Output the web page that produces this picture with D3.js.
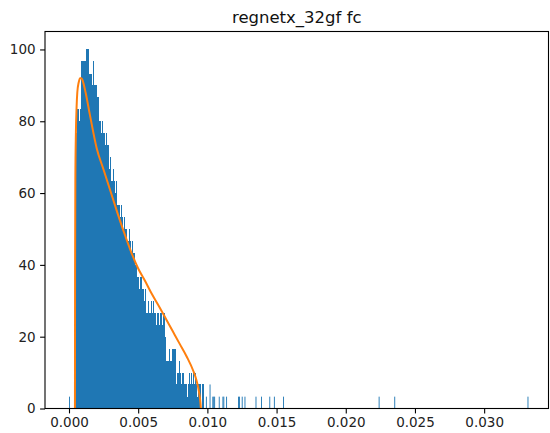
<!DOCTYPE html>
<html>
<head>
<meta charset="utf-8">
<script src="https://cdn.jsdelivr.net/npm/d3@7"></script>
<style>
  html, body { margin: 0; padding: 0; background: #fff; }
  text { font-family: "DejaVu Sans", sans-serif; }
</style>
</head>
<body>
<svg id="chart" width="550" height="433"></svg>
<script>
// ---- data ----
const title = "regnetx_32gf fc";
const histRange = [0, 0.0332];
const binCount = 500;
// density values of consecutive bins starting at bin index denseStart
const denseStart = 6;
const denseValues = [
  10, 46.7, 76.7, 83.3, 83.3, 80, 83.3, 96.7, 96.7, 96.7,
  96.7, 96.7, 96.7, 100, 100, 100, 93.3, 93.3, 93.3, 90,
  96.7, 90, 90, 90, 90, 86.7, 86.7, 80, 80, 76.7,
  80, 76.7, 76.7, 73.3, 76.7, 73.3, 73.3, 66.7, 66.7, 70,
  63.3, 63.3, 66.7, 63.3, 60, 63.3, 56.7, 56.7, 56.7, 53.3,
  53.3, 56.7, 53.3, 50, 53.3, 50, 50, 46.7, 46.7, 50,
  46.7, 43.3, 43.3, 46.7, 43.3, 43.3, 40, 40, 36.7, 36.7,
  33.3, 36.7, 36.7, 33.3, 36.7, 33.3, 30, 33.3, 26.7, 26.7,
  30, 26.7, 26.7, 30, 26.7, 30, 26.7, 26.7, 26.7, 23.3,
  26.7, 26.7, 23.3, 26.7, 26.7, 23.3, 26.7, 26.7, 26.7, 20,
  13.3, 13.3, 13.3, 16.7, 13.3, 13.3, 16.7, 16.7, 16.7, 16.7,
  6.7, 13.3, 10, 10, 13.3, 10, 6.7, 10, 10, 6.7,
  6.7, 6.7, 3.3, 6.7, 6.7, 10, 6.7, 10, 6.7, 10,
  6.7, 10, 6.7, 3.3, 6.7, 3.3, 6.7, 6.7, 0, 6.7,
  6.7
];
// isolated bins (index, density)
const sparseBins   = [0, 149, 153, 156, 157, 158, 163, 167, 168, 171, 184, 185, 188, 191, 203, 209, 218, 223, 233, 337, 354, 499];
const sparseValues = [3.3, 3.3, 6.7, 3.3, 3.3, 3.3, 3.3, 3.3, 3.3, 3.3, 3.3, 3.3, 3.3, 3.3, 3.3, 3.3, 3.3, 3.3, 3.3, 3.3, 3.3, 3.3];

// fitted density curve
const curveX = [0.00043, 0.00044, 0.00046, 0.0005, 0.00055, 0.0006, 0.0007, 0.0008, 0.0009, 0.001,
                0.0012, 0.0015, 0.002, 0.0025, 0.003, 0.0035, 0.004, 0.0045, 0.005, 0.0055,
                0.006, 0.0065, 0.007, 0.0075, 0.008, 0.0085, 0.009, 0.0092, 0.0094, 0.0095, 0.00953];
const curveY = [0, 38, 64, 77, 84, 88, 90.8, 92, 92, 91.2,
                88, 82, 72.5, 66.5, 60.5, 54.5, 48.8, 43.5, 39, 35.5,
                31.8, 28.5, 25, 21.5, 18, 14.5, 10.3, 8, 4.5, 1.5, 0];

const xTicks = [0, 0.005, 0.010, 0.015, 0.020, 0.025, 0.030];
const yTicks = [0, 20, 40, 60, 80, 100];

// ---- layout ----
const W = 550, H = 433;
const plot = { left: 45, right: 548.5, top: 31.5, bottom: 408.5 };
const svg = d3.select("#chart");

const x = d3.scaleLinear().domain([-0.001734, 0.03465]).range([plot.left, plot.right]);
const y = d3.scaleLinear().domain([0, 105]).range([plot.bottom, plot.top]);

const binW = (histRange[1] - histRange[0]) / binCount;
const denseBars = denseValues.map((v, k) => ({ i: denseStart + k, v }));
const sparseBars = sparseBins.map((b, k) => ({ i: b, v: sparseValues[k] }));

function drawBars(g, data) {
  return g.selectAll("rect")
    .data(data.filter(d => d.v > 0))
    .join("rect")
    .attr("x", d => x(histRange[0] + d.i * binW))
    .attr("width", d => x(histRange[0] + (d.i + 1) * binW) - x(histRange[0] + d.i * binW))
    .attr("y", d => y(d.v))
    .attr("height", d => y(0) - y(d.v))
    .attr("fill", "#1f77b4");
}
drawBars(svg.append("g").attr("shape-rendering", "crispEdges"), denseBars);
drawBars(svg.append("g"), sparseBars);

const line = d3.line()
  .x((d, k) => x(curveX[k]))
  .y(d => y(d))
  .curve(d3.curveMonotoneX);

svg.append("path")
  .datum(curveY)
  .attr("d", line)
  .attr("fill", "none")
  .attr("stroke", "#ff7f0e")
  .attr("stroke-width", 2)
  .attr("stroke-linejoin", "round")
  .attr("stroke-linecap", "butt");

// axes
const fmt = d3.format(".3f");
const xAxis = svg.append("g")
  .attr("transform", `translate(0,${plot.bottom})`)
  .call(d3.axisBottom(x).tickValues(xTicks).tickFormat(fmt).tickSize(4.9).tickPadding(4.5));
const yAxis = svg.append("g")
  .attr("transform", `translate(${plot.left},0)`)
  .call(d3.axisLeft(y).tickValues(yTicks).tickFormat(d3.format("d")).tickSize(4.9).tickPadding(4.5));

[xAxis, yAxis].forEach(g => {
  g.select(".domain").remove();
  g.selectAll(".tick line").attr("stroke", "#000").attr("stroke-width", 1.1);
  g.selectAll(".tick text").attr("fill", "#222").style("font-size", "13.5px").style("font-family", "DejaVu Sans");
});

// spines
svg.append("rect")
  .attr("x", plot.left).attr("y", plot.top)
  .attr("width", plot.right - plot.left).attr("height", plot.bottom - plot.top)
  .attr("fill", "none").attr("stroke", "#000").attr("stroke-width", 1.1);

svg.append("text")
  .attr("x", (plot.left + plot.right) / 2)
  .attr("y", 23)
  .attr("text-anchor", "middle")
  .style("font-size", "16.5px")
  .attr("fill", "#111")
  .text(title);
</script>
</body>
</html>
